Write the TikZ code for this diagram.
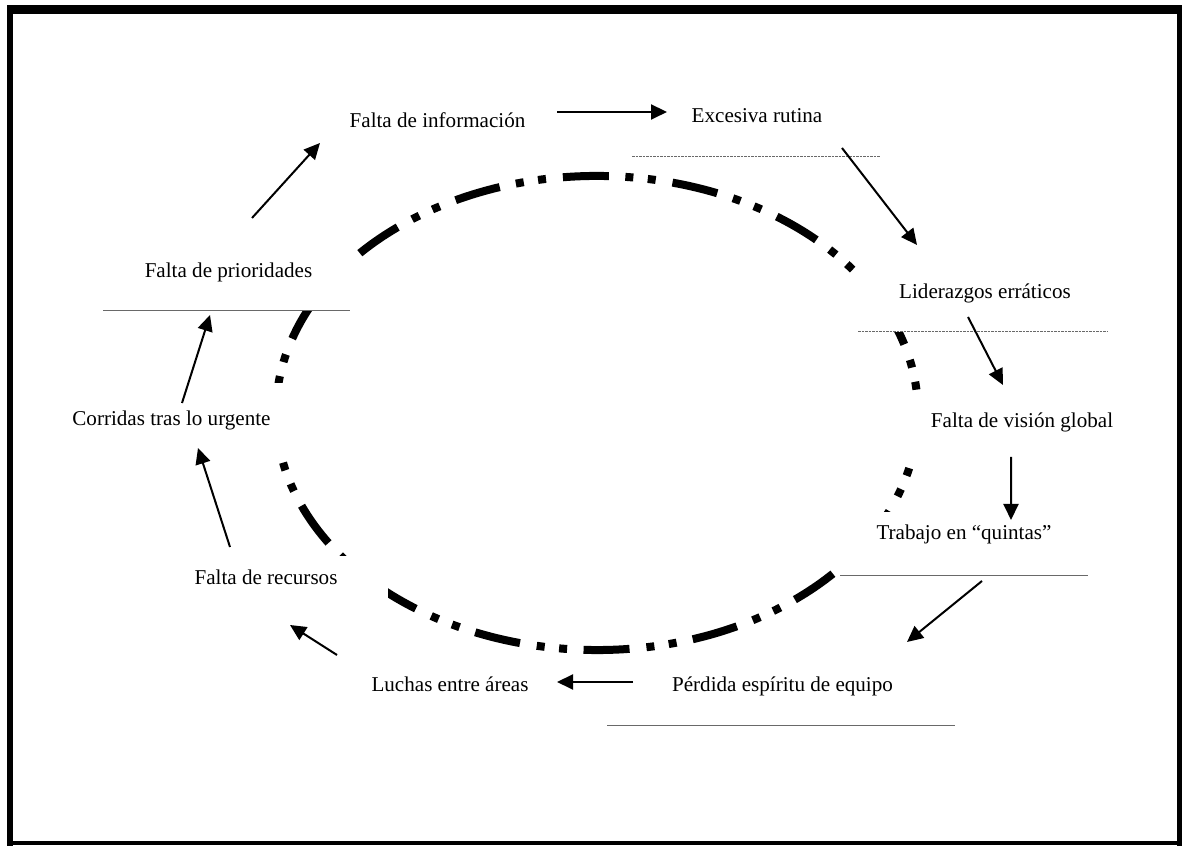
\documentclass[tikz,border=0pt]{standalone}
\usepackage{fontspec}
\setmainfont{Liberation Serif}
\usepackage{xcolor}
\usepackage{tikz}
\usetikzlibrary{arrows.meta, calc}
\definecolor{ruleGray}{RGB}{105,105,105}

\begin{document}
\begin{tikzpicture}[
    lbl/.style={anchor=base, inner sep=0pt, font=\fontsize{12pt}{14pt}\selectfont},
    flow/.style={line width=0.04cm, -{Triangle[length=0.32cm, width=0.3cm]}},
    rule/.style={ruleGray, line width=0.02cm},
    dotrule/.style={rule, dash pattern=on 0.05cm off 0.02cm},
    cycleline/.style={line width=0.16cm,
        dash pattern=on 0.92cm off 0.34cm on 0.16cm off 0.29cm on 0.16cm off 0.33cm}]
  \useasboundingbox (0,0) rectangle (23.64,16.92);
  % frame
  \draw[line width=0.18cm] (0.14,16.72) -- (23.64,16.72);
  \draw[line width=0.13cm] (0.2,16.81) -- (0.2,0);
  \draw[line width=0.1cm] (23.59,16.72) -- (23.59,0);
  \draw[line width=0.08cm] (0.2,0.05) -- (23.64,0.05);
  % the cycle, in two pieces (joins sit under the text boxes)
  \coordinate (ctr) at (11.94,8.66);
  \draw[cycleline, dash phase=0.24cm] ([shift={(-32:6.42 and 4.74)}]ctr)
    arc[start angle=-32, end angle=27, x radius=6.42, y radius=4.74];
  \draw[cycleline, dash phase=0.32cm] ([shift={(27:6.42 and 4.74)}]ctr)
    arc[start angle=27, end angle=328, x radius=6.42, y radius=4.74];
  % white text boxes lying over the cycle
  \fill[white] (2.08,10.70) rectangle (7.0,12.02);
  \fill[white] (1.24,7.78) rectangle (5.8,9.26);
  \fill[white] (3.5,4.92) rectangle (7.76,5.8);
  \fill[white] (17.16,10.28) rectangle (22.14,11.6);
  \fill[white] (18.1,7.76) rectangle (22.5,9.08);
  \fill[white] (16.8,5.40) rectangle (21.76,6.68);
  % labels
  \node[lbl] (info)     at (8.75,14.36)  {Falta de información};
  \node[lbl] (rutina)   at (15.14,14.46) {Excesiva rutina};
  \node[lbl] (lider)    at (19.70,10.94) {Liderazgos erráticos};
  \node[lbl] (vision)   at (20.44,8.36)  {Falta de visión global};
  \node[lbl] (quintas)  at (19.28,6.12)  {Trabajo en “quintas”};
  \node[lbl] (equipo)   at (15.65,3.08)  {Pérdida espíritu de equipo};
  \node[lbl] (luchas)   at (9.00,3.08)   {Luchas entre áreas};
  \node[lbl] (recursos) at (5.32,5.22)   {Falta de recursos};
  \node[lbl] (urgente)  at (3.43,8.40)   {Corridas tras lo urgente};
  \node[lbl] (prio)     at (4.57,11.36)  {Falta de prioridades};
  % underlines
  \draw[dotrule] (12.64,13.78) -- (17.6,13.78);
  \draw[dotrule] (17.16,10.28) -- (22.14,10.28);
  \draw[rule] (16.8,5.40) -- (21.76,5.40);
  \draw[rule] (12.14,2.40) -- (19.1,2.40);
  \draw[rule] (2.06,10.70) -- (7.0,10.70);
  % arrows
  \foreach \a/\sx/\sy/\b/\ex/\ey in {
      prio/0.47/1.2/info/-2.35/-0.3,
      info/2.39/0.32/rutina/-1.8/0.22,
      rutina/1.7/-0.5/lider/-1.36/1.08,
      lider/-0.34/-0.36/vision/-0.38/0.86,
      vision/-0.22/-0.58/quintas/0.94/0.4,
      quintas/0.36/-0.82/equipo/2.49/1.0,
      equipo/-2.99/0.2/luchas/2.14/0.2,
      luchas/-2.26/0.74/recursos/0.48/-0.8,
      recursos/-0.72/0.76/urgente/0.53/-0.44,
      urgente/0.21/0.46/prio/-0.37/-0.74}
    \draw[flow] ($(\a.base)+(\sx,\sy)$) -- ($(\b.base)+(\ex,\ey)$);
\end{tikzpicture}
\end{document}
